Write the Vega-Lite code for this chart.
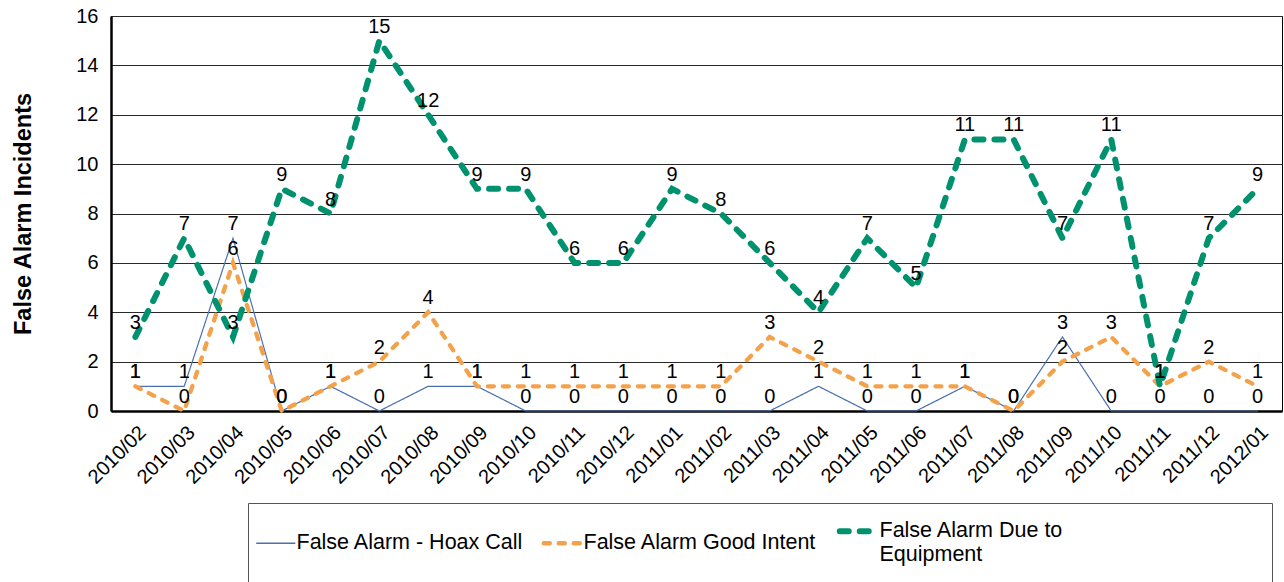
{
  "$schema": "https://vega.github.io/schema/vega-lite/v6.json",
  "width": 1171,
  "height": 395,
  "autosize": {"type": "none"},
  "padding": {"left": 111, "top": 16, "right": 2, "bottom": 171},
  "background": "#ffffff",
  "config": {
    "font": "Liberation Sans",
    "view": {"stroke": "#000000", "strokeWidth": 1},
    "axis": {"labelColor": "#000000", "titleColor": "#000000", "labelFont": "Liberation Sans", "titleFont": "Liberation Sans"}
  },
  "datasets": {
    "alarms": [
      {"month": "2010/02", "series": "False Alarm - Hoax Call", "value": 1},
      {"month": "2010/03", "series": "False Alarm - Hoax Call", "value": 1},
      {"month": "2010/04", "series": "False Alarm - Hoax Call", "value": 7},
      {"month": "2010/05", "series": "False Alarm - Hoax Call", "value": 0},
      {"month": "2010/06", "series": "False Alarm - Hoax Call", "value": 1},
      {"month": "2010/07", "series": "False Alarm - Hoax Call", "value": 0},
      {"month": "2010/08", "series": "False Alarm - Hoax Call", "value": 1},
      {"month": "2010/09", "series": "False Alarm - Hoax Call", "value": 1},
      {"month": "2010/10", "series": "False Alarm - Hoax Call", "value": 0},
      {"month": "2010/11", "series": "False Alarm - Hoax Call", "value": 0},
      {"month": "2010/12", "series": "False Alarm - Hoax Call", "value": 0},
      {"month": "2011/01", "series": "False Alarm - Hoax Call", "value": 0},
      {"month": "2011/02", "series": "False Alarm - Hoax Call", "value": 0},
      {"month": "2011/03", "series": "False Alarm - Hoax Call", "value": 0},
      {"month": "2011/04", "series": "False Alarm - Hoax Call", "value": 1},
      {"month": "2011/05", "series": "False Alarm - Hoax Call", "value": 0},
      {"month": "2011/06", "series": "False Alarm - Hoax Call", "value": 0},
      {"month": "2011/07", "series": "False Alarm - Hoax Call", "value": 1},
      {"month": "2011/08", "series": "False Alarm - Hoax Call", "value": 0},
      {"month": "2011/09", "series": "False Alarm - Hoax Call", "value": 3},
      {"month": "2011/10", "series": "False Alarm - Hoax Call", "value": 0},
      {"month": "2011/11", "series": "False Alarm - Hoax Call", "value": 0},
      {"month": "2011/12", "series": "False Alarm - Hoax Call", "value": 0},
      {"month": "2012/01", "series": "False Alarm - Hoax Call", "value": 0},
      {"month": "2010/02", "series": "False Alarm Good Intent", "value": 1},
      {"month": "2010/03", "series": "False Alarm Good Intent", "value": 0},
      {"month": "2010/04", "series": "False Alarm Good Intent", "value": 6},
      {"month": "2010/05", "series": "False Alarm Good Intent", "value": 0},
      {"month": "2010/06", "series": "False Alarm Good Intent", "value": 1},
      {"month": "2010/07", "series": "False Alarm Good Intent", "value": 2},
      {"month": "2010/08", "series": "False Alarm Good Intent", "value": 4},
      {"month": "2010/09", "series": "False Alarm Good Intent", "value": 1},
      {"month": "2010/10", "series": "False Alarm Good Intent", "value": 1},
      {"month": "2010/11", "series": "False Alarm Good Intent", "value": 1},
      {"month": "2010/12", "series": "False Alarm Good Intent", "value": 1},
      {"month": "2011/01", "series": "False Alarm Good Intent", "value": 1},
      {"month": "2011/02", "series": "False Alarm Good Intent", "value": 1},
      {"month": "2011/03", "series": "False Alarm Good Intent", "value": 3},
      {"month": "2011/04", "series": "False Alarm Good Intent", "value": 2},
      {"month": "2011/05", "series": "False Alarm Good Intent", "value": 1},
      {"month": "2011/06", "series": "False Alarm Good Intent", "value": 1},
      {"month": "2011/07", "series": "False Alarm Good Intent", "value": 1},
      {"month": "2011/08", "series": "False Alarm Good Intent", "value": 0},
      {"month": "2011/09", "series": "False Alarm Good Intent", "value": 2},
      {"month": "2011/10", "series": "False Alarm Good Intent", "value": 3},
      {"month": "2011/11", "series": "False Alarm Good Intent", "value": 1},
      {"month": "2011/12", "series": "False Alarm Good Intent", "value": 2},
      {"month": "2012/01", "series": "False Alarm Good Intent", "value": 1},
      {"month": "2010/02", "series": "False Alarm Due to Equipment", "value": 3},
      {"month": "2010/03", "series": "False Alarm Due to Equipment", "value": 7},
      {"month": "2010/04", "series": "False Alarm Due to Equipment", "value": 3},
      {"month": "2010/05", "series": "False Alarm Due to Equipment", "value": 9},
      {"month": "2010/06", "series": "False Alarm Due to Equipment", "value": 8},
      {"month": "2010/07", "series": "False Alarm Due to Equipment", "value": 15},
      {"month": "2010/08", "series": "False Alarm Due to Equipment", "value": 12},
      {"month": "2010/09", "series": "False Alarm Due to Equipment", "value": 9},
      {"month": "2010/10", "series": "False Alarm Due to Equipment", "value": 9},
      {"month": "2010/11", "series": "False Alarm Due to Equipment", "value": 6},
      {"month": "2010/12", "series": "False Alarm Due to Equipment", "value": 6},
      {"month": "2011/01", "series": "False Alarm Due to Equipment", "value": 9},
      {"month": "2011/02", "series": "False Alarm Due to Equipment", "value": 8},
      {"month": "2011/03", "series": "False Alarm Due to Equipment", "value": 6},
      {"month": "2011/04", "series": "False Alarm Due to Equipment", "value": 4},
      {"month": "2011/05", "series": "False Alarm Due to Equipment", "value": 7},
      {"month": "2011/06", "series": "False Alarm Due to Equipment", "value": 5},
      {"month": "2011/07", "series": "False Alarm Due to Equipment", "value": 11},
      {"month": "2011/08", "series": "False Alarm Due to Equipment", "value": 11},
      {"month": "2011/09", "series": "False Alarm Due to Equipment", "value": 7},
      {"month": "2011/10", "series": "False Alarm Due to Equipment", "value": 11},
      {"month": "2011/11", "series": "False Alarm Due to Equipment", "value": 1},
      {"month": "2011/12", "series": "False Alarm Due to Equipment", "value": 7},
      {"month": "2012/01", "series": "False Alarm Due to Equipment", "value": 9}
    ]
  },
  "data": {"name": "alarms"},
  "encoding": {
    "x": {
      "field": "month", "type": "ordinal", "sort": null,
      "scale": {"type": "point", "padding": 0.5},
      "axis": {"title": null, "labelAngle": -45, "labelFontSize": 20, "ticks": false, "grid": false, "domainColor": "#000000", "domainWidth": 2.5, "labelPadding": 11}
    },
    "y": {
      "field": "value", "type": "quantitative",
      "scale": {"domain": [0, 16]},
      "axis": {"title": "False Alarm Incidents", "values": [0, 2, 4, 6, 8, 10, 12, 14, 16], "titleFontSize": 23.5, "titleFontWeight": "bold", "labelFontSize": 20, "ticks": false, "gridColor": "#2a2a2a", "gridOpacity": 1, "gridWidth": 1, "domainColor": "#000000", "domainWidth": 2.5, "labelPadding": 13, "titlePadding": 40}
    }
  },
  "layer": [
    {
      "transform": [{"filter": "datum.series == 'False Alarm - Hoax Call'"}],
      "mark": {"type": "line", "strokeWidth": 1.2, "strokeCap": "round"},
      "encoding": {
        "color": {"field": "series", "type": "nominal", "scale": {"domain": ["False Alarm - Hoax Call", "False Alarm Good Intent", "False Alarm Due to Equipment"], "range": ["#4a70b0", "#f3a24b", "#00926f"]}, "legend": {
          "orient": "none", "legendX": 137, "legendY": 487, "direction": "horizontal", "title": null,
          "strokeColor": "#555555", "padding": 17, "symbolType": "stroke", "symbolSize": 1444,
          "labelFontSize": 21.5, "labelLimit": 900, "columnPadding": 10, "labelOffset": 10,
          "labelExpr": "datum.label == 'False Alarm Due to Equipment' ? ['False Alarm Due to\u00a0\u00a0\u00a0\u00a0\u00a0\u00a0\u00a0\u00a0\u00a0\u00a0\u00a0\u00a0\u00a0\u00a0\u00a0\u00a0\u00a0\u00a0\u00a0\u00a0\u00a0\u00a0\u00a0\u00a0\u00a0\u00a0\u00a0\u00a0\u00a0\u00a0\u00a0\u00a0\u200b', 'Equipment'] : datum.label",
          "symbolStrokeWidth": 4,
          "encode": {
            "symbols": {"update": {"strokeWidth": {"signal": "datum.value == 'False Alarm - Hoax Call' ? 1.5 : datum.value == 'False Alarm Good Intent' ? 4.5 : 6"}, "strokeCap": {"value": "round"}}},
            "labels": {"update": {"lineHeight": {"value": 24}}}
          }
        }},
        "strokeDash": {"field": "series", "type": "nominal", "scale": {"domain": ["False Alarm - Hoax Call", "False Alarm Good Intent", "False Alarm Due to Equipment"], "range": [[1, 0], [6, 9], [9, 11]]}, "legend": null}
      }
    },
    {
      "transform": [{"filter": "datum.series == 'False Alarm Good Intent'"}],
      "mark": {"type": "line", "strokeWidth": 4.3, "strokeCap": "round"},
      "encoding": {
        "color": {"field": "series", "type": "nominal"},
        "strokeDash": {"field": "series", "type": "nominal"}
      }
    },
    {
      "transform": [{"filter": "datum.series == 'False Alarm Due to Equipment'"}],
      "mark": {"type": "line", "strokeWidth": 6, "strokeCap": "round"},
      "encoding": {
        "color": {"field": "series", "type": "nominal"},
        "strokeDash": {"field": "series", "type": "nominal"}
      }
    },
    {
      "mark": {"type": "text", "fontSize": 20, "baseline": "alphabetic", "dy": -8, "color": "#000000", "font": "Liberation Sans"},
      "encoding": {"text": {"field": "value", "type": "quantitative"}}
    }
  ]
}
